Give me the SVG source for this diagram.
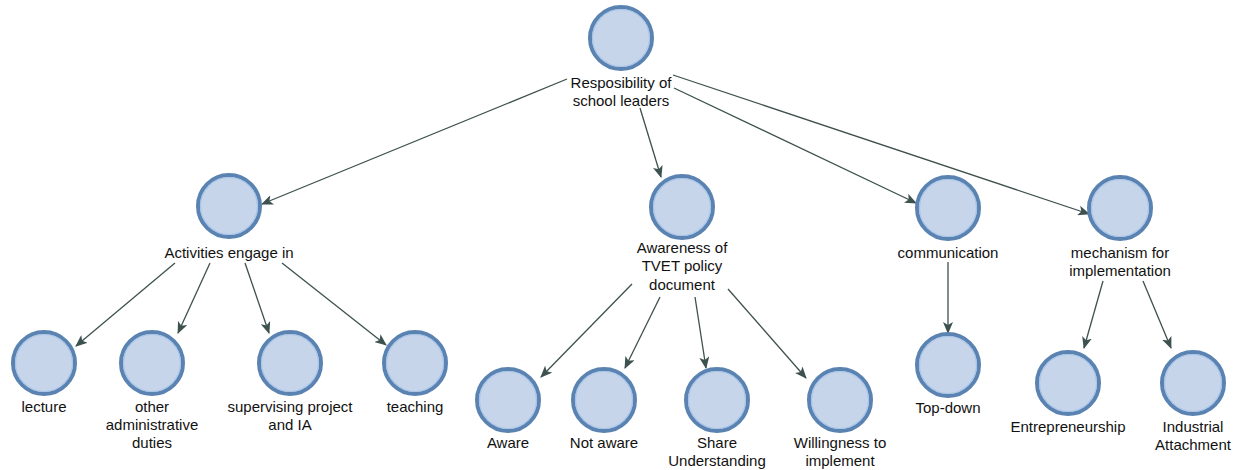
<svg xmlns="http://www.w3.org/2000/svg" width="1241" height="470" viewBox="0 0 1241 470">
<defs>
<style>
.n circle.o{fill:#c6d5e9;stroke:#5a83b2;stroke-width:4}
.n circle.i{fill:none;stroke:#a8c5ea;stroke-width:1.2}
.n text{font-family:"Liberation Sans",Arial,sans-serif;font-size:15px;fill:#111;text-anchor:middle}
#edges line{stroke:#3d514e;stroke-width:1.3;marker-end:url(#ah)}
</style>
<marker id="ah" viewBox="0 0 12 10" refX="11" refY="5" markerWidth="12" markerHeight="10" markerUnits="userSpaceOnUse" orient="auto">
<path d="M0,0 L12,5 L0,10 L3,5 Z" fill="#3d514e"/>
</marker>
</defs>
<rect width="1241" height="470" fill="#fff"/>
<g id="edges">
<line x1="567" y1="79" x2="262" y2="204"/>
<line x1="640" y1="108" x2="661" y2="177"/>
<line x1="674" y1="88" x2="916" y2="203"/>
<line x1="673" y1="75" x2="1089" y2="214"/>
<line x1="175" y1="263" x2="76" y2="346"/>
<line x1="210" y1="263" x2="178" y2="333"/>
<line x1="245" y1="263" x2="269" y2="333"/>
<line x1="282" y1="263" x2="386" y2="345"/>
<line x1="632" y1="284" x2="541" y2="377"/>
<line x1="660" y1="297" x2="625" y2="368"/>
<line x1="695" y1="297" x2="706" y2="368"/>
<line x1="728" y1="289" x2="806" y2="378"/>
<line x1="948" y1="262" x2="948" y2="333"/>
<line x1="1103" y1="281" x2="1084" y2="348"/>
<line x1="1143" y1="281" x2="1171" y2="348"/>
</g>
<g id="root" class="n"><circle class="o" cx="621" cy="38" r="31"/><circle class="i" cx="621" cy="38" r="28.5"/><text x="621" y="88">Resposibility of</text><text x="621" y="106">school leaders</text></g>
<g id="activities" class="n"><circle class="o" cx="229" cy="206" r="31"/><circle class="i" cx="229" cy="206" r="28.5"/><text x="229" y="258">Activities engage in</text></g>
<g id="awareness" class="n"><circle class="o" cx="682" cy="207" r="31"/><circle class="i" cx="682" cy="207" r="28.5"/><text x="682" y="253">Awareness of</text><text x="682" y="271">TVET policy</text><text x="682" y="290">document</text></g>
<g id="communication" class="n"><circle class="o" cx="948" cy="208" r="31"/><circle class="i" cx="948" cy="208" r="28.5"/><text x="948" y="258">communication</text></g>
<g id="mechanism" class="n"><circle class="o" cx="1120" cy="208" r="31"/><circle class="i" cx="1120" cy="208" r="28.5"/><text x="1120" y="258">mechanism for</text><text x="1120" y="276">implementation</text></g>
<g id="lecture" class="n"><circle class="o" cx="44" cy="363" r="31"/><circle class="i" cx="44" cy="363" r="28.5"/><text x="44" y="412">lecture</text></g>
<g id="other" class="n"><circle class="o" cx="152" cy="363" r="31"/><circle class="i" cx="152" cy="363" r="28.5"/><text x="152" y="412">other</text><text x="152" y="430">administrative</text><text x="152" y="448">duties</text></g>
<g id="supervising" class="n"><circle class="o" cx="290" cy="363" r="31"/><circle class="i" cx="290" cy="363" r="28.5"/><text x="290" y="412">supervising project</text><text x="290" y="430">and IA</text></g>
<g id="teaching" class="n"><circle class="o" cx="415" cy="363" r="31"/><circle class="i" cx="415" cy="363" r="28.5"/><text x="415" y="412">teaching</text></g>
<g id="aware" class="n"><circle class="o" cx="508" cy="400" r="31"/><circle class="i" cx="508" cy="400" r="28.5"/><text x="508" y="448">Aware</text></g>
<g id="notaware" class="n"><circle class="o" cx="604" cy="400" r="31"/><circle class="i" cx="604" cy="400" r="28.5"/><text x="604" y="448">Not aware</text></g>
<g id="share" class="n"><circle class="o" cx="717" cy="400" r="31"/><circle class="i" cx="717" cy="400" r="28.5"/><text x="717" y="448">Share</text><text x="717" y="466">Understanding</text></g>
<g id="willingness" class="n"><circle class="o" cx="840" cy="400" r="31"/><circle class="i" cx="840" cy="400" r="28.5"/><text x="840" y="448">Willingness to</text><text x="840" y="466">implement</text></g>
<g id="topdown" class="n"><circle class="o" cx="948" cy="365" r="31"/><circle class="i" cx="948" cy="365" r="28.5"/><text x="948" y="413">Top-down</text></g>
<g id="entrepreneurship" class="n"><circle class="o" cx="1068" cy="383" r="31"/><circle class="i" cx="1068" cy="383" r="28.5"/><text x="1068" y="432">Entrepreneurship</text></g>
<g id="industrial" class="n"><circle class="o" cx="1193" cy="383" r="31"/><circle class="i" cx="1193" cy="383" r="28.5"/><text x="1193" y="432">Industrial</text><text x="1193" y="450">Attachment</text></g>
</svg>
